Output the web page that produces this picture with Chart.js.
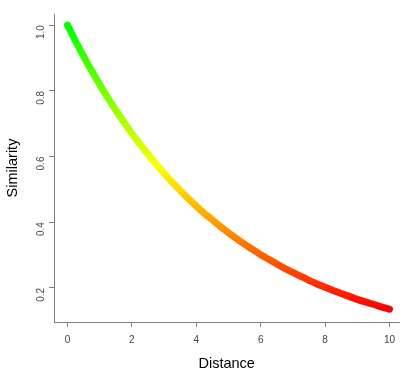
<!DOCTYPE html>
<html>
<head>
<meta charset="utf-8">
<script src="https://cdn.jsdelivr.net/npm/chart.js@4"></script>
<style>
  html, body { margin: 0; padding: 0; background: #fff; overflow: hidden; }
  #wrap { width: 402px; height: 368px; position: relative; }
</style>
</head>
<body>
<div id="wrap"><canvas id="simChart"></canvas></div>
<script>
// Data
const distance = [0, 0.25, 0.5, 0.75, 1, 1.25, 1.5, 1.75, 2, 2.25, 2.5, 2.75, 3, 3.25, 3.5, 3.75, 4, 4.25, 4.5, 4.75,
    5, 5.25, 5.5, 5.75, 6, 6.25, 6.5, 6.75, 7, 7.25, 7.5, 7.75, 8, 8.25, 8.5, 8.75, 9, 9.25, 9.5, 9.75, 10];
const similarity = [1.000, 0.951, 0.905, 0.861, 0.819, 0.779, 0.741, 0.705, 0.670, 0.638, 0.607, 0.577, 0.549, 0.522,
    0.497, 0.472, 0.449, 0.427, 0.407, 0.387, 0.368, 0.350, 0.333, 0.317, 0.301, 0.287, 0.273, 0.259, 0.247, 0.235,
    0.223, 0.212, 0.202, 0.192, 0.183, 0.174, 0.165, 0.157, 0.150, 0.142, 0.135];
const xTicks = [0, 2, 4, 6, 8, 10];
const yTicks = [0.2, 0.4, 0.6, 0.8, 1.0];

const axisGray = '#7f7f7f';
const labelGray = '#444';
const font = 'Liberation Sans, Arial, sans-serif';

// colour runs green -> yellow -> red with the similarity value
function curveColor(context) {
    const chart = context.chart;
    if (!chart.chartArea) return '#ffff00';
    const y = chart.scales.y;
    const top = y.getPixelForValue(1.0);
    const bottom = y.getPixelForValue(0.135);
    const grad = chart.ctx.createLinearGradient(0, top, 0, bottom);
    grad.addColorStop(0, '#00ff00');
    grad.addColorStop(0.5, '#ffff00');
    grad.addColorStop(1, '#ff0000');
    return grad;
}

const ctx = document.getElementById('simChart').getContext('2d');
const simChart = new Chart(ctx, {
    type: 'line',
    data: {
        datasets: [{
            data: distance.map((d, i) => ({ x: d, y: similarity[i] })),
            borderColor: curveColor,
            borderWidth: 7,
            borderCapStyle: 'round',
            borderJoinStyle: 'round',
            cubicInterpolationMode: 'monotone',
            pointRadius: 0,
            fill: false
        }]
    },
    options: {
        responsive: true,
        maintainAspectRatio: false,
        animation: false,
        layout: { padding: { top: 6, right: 0, left: 0, bottom: 0 } },
        plugins: { legend: { display: false }, tooltip: { enabled: false } },
        scales: {
            x: {
                type: 'linear',
                min: -0.42,
                max: 10.31,
                afterBuildTicks: (scale) => { scale.ticks = xTicks.map(v => ({ value: v })); },
                afterFit: (scale) => { scale.height = 46; },
                border: { display: true, color: axisGray, width: 1 },
                grid: { drawOnChartArea: false, drawTicks: true, tickLength: 5, color: axisGray },
                ticks: { color: labelGray, font: { family: font, size: 10 }, padding: 7, maxRotation: 0 },
                title: { display: true, text: 'Distance', color: '#000', font: { family: font, size: 14.5 }, padding: { top: 0, bottom: -4.5 } }
            },
            y: {
                type: 'linear',
                min: 0.096,
                max: 1.034,
                afterBuildTicks: (scale) => { scale.ticks = yTicks.map(v => ({ value: v })); },
                afterFit: (scale) => { scale.width = 54; },
                border: { display: true, color: axisGray, width: 1 },
                grid: { drawOnChartArea: false, drawTicks: true, tickLength: 5, color: axisGray },
                ticks: {
                    color: labelGray, font: { family: font, size: 10 }, padding: 8,
                    minRotation: 90, maxRotation: 90,
                    callback: (v) => v.toFixed(1)
                },
                title: { display: true, text: 'Similarity', color: '#000', font: { family: font, size: 14.5 }, padding: { top: 4, bottom: 0 } }
            }
        }
    }
});
</script>
</body>
</html>
